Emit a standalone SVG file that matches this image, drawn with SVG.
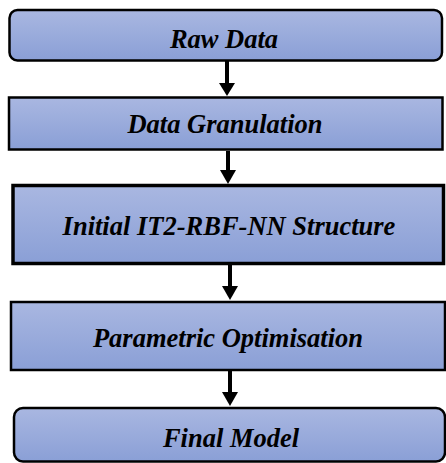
<svg xmlns="http://www.w3.org/2000/svg" width="446" height="463" viewBox="0 0 446 463">
<defs>
<linearGradient id="g" x1="0" y1="0" x2="0" y2="1">
<stop offset="0" stop-color="#a9b7e1"/>
<stop offset="1" stop-color="#8a9fd6"/>
</linearGradient>
<style>
.box{fill:url(#g);stroke:#000;stroke-width:2.5}
.thick{stroke-width:3.5}
.t{font-family:"Liberation Serif","Times New Roman",serif;font-weight:bold;font-style:italic;font-size:26.5px;fill:#000;text-anchor:middle}
.c{stroke:#000;stroke-width:4;fill:none}
.hd{fill:#000}
</style>
</defs>
<g id="connectors">
<line class="c" x1="227" y1="61" x2="227" y2="84"/><path class="hd" d="M219,83 L235,83 L227,96 Z"/>
<line class="c" x1="228" y1="151" x2="228" y2="171"/><path class="hd" d="M220,170 L236,170 L228,184 Z"/>
<line class="c" x1="230" y1="265" x2="230" y2="287"/><path class="hd" d="M222,286 L238,286 L230,300 Z"/>
<line class="c" x1="230" y1="371" x2="230" y2="393"/><path class="hd" d="M222,392 L238,392 L230,406 Z"/>
</g>
<g id="raw-data">
<rect class="box" x="9.5" y="10" width="432.5" height="50.5" rx="8"/>
<text class="t" x="224" y="48">Raw Data</text>
</g>
<g id="data-granulation">
<rect class="box" x="9" y="97.5" width="433.5" height="52"/>
<text class="t" x="225" y="133">Data Granulation</text>
</g>
<g id="initial-structure">
<rect class="box thick" x="13" y="185.5" width="430.5" height="78"/>
<text class="t" x="229" y="235">Initial IT2-RBF-NN Structure</text>
</g>
<g id="parametric-optimisation">
<rect class="box" x="11" y="302" width="434" height="68"/>
<text class="t" x="228" y="347">Parametric Optimisation</text>
</g>
<g id="final-model">
<rect class="box" x="14" y="408" width="431" height="53.5" rx="9"/>
<text class="t" x="231" y="447">Final Model</text>
</g>
</svg>
